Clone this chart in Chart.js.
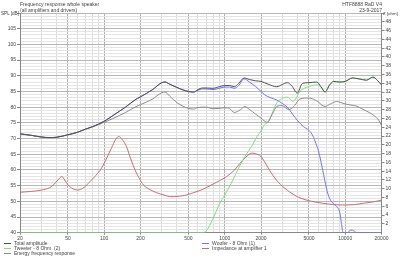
<!DOCTYPE html>
<html>
<head>
<meta charset="utf-8">
<script src="https://cdn.jsdelivr.net/npm/chart.js@4/dist/chart.umd.min.js"></script>
<style>
  html, body { margin:0; padding:0; background:#fff; }
  #wrap { position:relative; width:400px; height:256px; overflow:hidden; font-family:"Liberation Sans", Arial, sans-serif; color:#444; }
  canvas { position:absolute; left:0; top:0; }
  .t { position:absolute; font-size:5px; line-height:5px; white-space:nowrap; }
  .lg { position:absolute; font-size:5px; line-height:5px; white-space:nowrap; }
  .lg i { display:inline-block; width:7px; height:0; border-top:1px solid; vertical-align:middle; margin-right:3px; position:relative; top:-0.5px; }
</style>
</head>
<body>
<div id="wrap">
  <canvas id="c" width="400" height="256"></canvas>
  <div class="t" style="left:20px;top:2px;">Frequency response whole speaker</div>
  <div class="t" style="left:20px;top:7.5px;">(all amplifiers and drivers)</div>
  <div class="t" style="right:18px;top:2px;text-align:right;">HTF8888 RaD V4</div>
  <div class="t" style="right:18px;top:7.5px;text-align:right;">23-9-2017</div>
  <div class="t" style="left:1px;top:11px;font-size:4.6px;">SPL [dB]</div>
  <div class="t" style="left:383px;top:11px;font-size:4.4px;">Z [ohm]</div>
  <div class="lg" style="left:4px;top:241px;"><i style="border-color:#505050"></i>Total amplitude</div>
  <div class="lg" style="left:4px;top:246px;"><i style="border-color:#7ee07e"></i>Tweeter - 8 Ohm &nbsp;(2)</div>
  <div class="lg" style="left:4px;top:251px;"><i style="border-color:#8c8c8c"></i>Energy frequency response</div>
  <div class="lg" style="left:202px;top:241px;"><i style="border-color:#7070ff"></i>Woofer - 8 Ohm (1)</div>
  <div class="lg" style="left:202px;top:246px;"><i style="border-color:#c07078"></i>Impedance at amplifier 1</div>
</div>
<script>
// ---- data ----
const totalFreq = [20,25,30,35,40,50,60,70,80,100,120,150,180,200,250,300,320,350,400,450,500,550,600,650,700,800,900,1000,1100,1200,1300,1450,1600,1800,2000,2300,2700,3000,3300,3600,4000,4400,5000,5800,6300,6800,7400,8000,9000,10000,11500,13000,15000,17000,18500,20000];
const totalDb   = [71.5,71.0,70.5,70.3,70.4,71.2,72.0,73.0,73.8,75.5,77.5,80.0,82.3,83.3,85.5,87.8,88.0,87.3,86.3,85.5,85.0,84.8,85.6,86.1,86.1,86.0,86.5,86.9,86.9,86.5,87.5,89.3,88.8,88.4,88.2,87.3,86.5,87.2,87.8,86.8,84.5,87.5,87.8,88.0,86.5,84.8,87.0,88.2,88.0,88.2,89.3,89.0,88.6,89.6,88.5,87.1];

const energyFreq = [20,25,30,35,40,50,60,70,80,100,120,150,180,200,250,300,320,350,400,450,500,550,600,700,800,900,1000,1100,1200,1350,1470,1600,1800,2000,2250,2500,2700,3000,3400,3800,4200,5000,5800,6800,7500,8500,10000,11000,12500,14000,16000,17500,19000,20000];
const energyDb   = [71.5,71.0,70.5,70.3,70.4,71.2,72.0,73.0,73.7,75.2,76.5,78.3,80.0,80.8,82.5,84.6,84.8,83.5,81.5,80.3,79.6,79.4,79.9,80.0,79.5,79.6,79.8,79.5,78.3,79.2,80.2,79.3,77.8,76.5,75.2,78.0,80.2,80.5,79.2,80.5,82.6,82.9,82.0,80.2,81.0,81.8,81.0,80.7,80.3,79.3,78.2,77.2,75.8,74.2];

const wooferFreq = [20,25,30,35,40,50,60,70,80,100,120,150,180,200,250,300,320,350,400,450,500,550,600,650,700,800,900,1000,1100,1200,1300,1450,1600,1800,2000,2150,2400,2700,3000,3300,3700,4000,4500,5000,5400,5700,6000,6500,7000,7400,8000,8500,9000,9300,9600,10500,11000,11500,12500,20000];
const wooferDb   = [71.5,71.0,70.5,70.3,70.4,71.2,72.0,73.0,73.8,75.5,77.5,80.0,82.3,83.3,85.5,87.8,88.0,87.3,86.3,85.5,85.0,84.8,85.4,85.8,85.8,85.6,86.0,86.4,86.4,86.0,86.8,89.0,88.0,86.6,85.0,83.9,83.0,82.3,81.2,80.0,77.5,75.8,73.8,72.6,70.8,68.5,66.0,60.0,54.0,51.0,49.2,48.3,46.5,43.0,40.0,40.0,40.8,40.8,40.0,40.0];

const tweeterFreq = [20,100,500,650,700,800,900,1000,1170,1300,1470,1670,1850,2000,2150,2300,2500,2700,3000,3300,3700,4200,5000,5900,6400,6800,7400,8000,9000,10000,11500,13000,15000,17000,18500,20000];
const tweeterDb   = [40,40,40,40,40.5,44.5,49.0,52.0,56.8,60.5,64.3,67.5,70.6,72.5,74.5,75.3,78.5,81.3,82.8,83.2,81.8,85.0,86.6,87.1,86.0,84.8,87.0,88.2,88.0,88.2,89.3,89.0,88.6,89.6,88.5,87.1];

const impFreq = [20,25,30,35,38,42,44.5,47,50,55,60,68,76,85,95,105,115,125,132,140,153,165,180,195,211,240,272,320,350,420,483,550,650,755,900,1040,1200,1340,1500,1670,1800,2000,2200,2500,2900,3450,4000,4800,5600,6500,8000,9500,12000,14100,17000,20000];
const impOhm  = [9.2,9.4,9.7,10.2,10.9,12.2,12.8,12.0,10.9,10.0,9.7,10.3,11.6,13.0,14.7,17.0,19.3,21.3,21.9,21.3,19.6,17.0,14.3,12.4,10.9,9.8,9.1,8.5,8.2,8.3,8.6,9.1,9.8,10.7,11.8,12.8,14.2,15.8,17.2,18.1,18.0,17.3,15.6,13.1,11.0,9.3,8.2,7.4,7.0,6.7,6.4,6.3,6.4,6.7,7.0,7.4];

const xTickValues = [20,30,40,50,60,70,80,90,100,200,300,400,500,600,700,800,900,1000,2000,3000,4000,5000,6000,7000,8000,9000,10000,20000];
const xLabelValues = [20,50,100,200,500,1000,2000,5000,10000,20000];
const splTicks = [40,45,50,55,60,65,70,75,80,85,90,95,100,105];
const ohmTicks = [2,4,6,8,10,12,14,16,18,20,22,24,26,28,30,32,34,36,38,40,42,44,46,48,50];

// ---- build ----
const pts = (f, v) => f.map((x, i) => ({ x, y: v[i] }));
const FONT = { family: '"Liberation Sans", Arial, sans-serif', size: 5 };
const TXT = '#444';

const ds = (label, f, v, color, axis) => ({
  label, data: pts(f, v), borderColor: color, backgroundColor: color,
  borderWidth: 1, pointRadius: 0, fill: false, cubicInterpolationMode: 'monotone', yAxisID: axis
});

new Chart(document.getElementById('c'), {
  type: 'line',
  data: {
    datasets: [
      ds('Total amplitude', totalFreq, totalDb, '#505050', 'y'),
      ds('Energy frequency response', energyFreq, energyDb, '#8c8c8c', 'y'),
      ds('Woofer - 8 Ohm (1)', wooferFreq, wooferDb, '#7070ff', 'y'),
      ds('Tweeter - 8 Ohm  (2)', tweeterFreq, tweeterDb, '#7ee07e', 'y'),
      ds('Impedance at amplifier 1', impFreq, impOhm, '#c07078', 'y2')
    ]
  },
  options: {
    responsive: false, animation: false, devicePixelRatio: 1,
    layout: { padding: { top: 13, left: 0, right: 0, bottom: 0 } },
    plugins: { legend: { display: false }, tooltip: { enabled: false } },
    scales: {
      x: {
        type: 'logarithmic', min: 20, max: 20000,
        afterBuildTicks: s => { s.ticks = xTickValues.map(v => ({ value: v })); },
        afterFit: s => { s.height = 23.3; },
        ticks: {
          autoSkip: false, maxRotation: 0, minRotation: 0, padding: 1, color: TXT, font: FONT,
          callback: v => xLabelValues.includes(v) ? String(v) : ''
        },
        grid: {
          tickLength: 2,
          color: c => (c.tick && xLabelValues.includes(c.tick.value)) ? '#b0b0b0' : '#dedede',
          tickColor: c => (c.tick && xLabelValues.includes(c.tick.value)) ? '#888' : 'rgba(0,0,0,0)'
        },
        border: { color: '#888' }
      },
      y: {
        position: 'left', min: 40, max: 110,
        afterBuildTicks: s => { const t = []; for (let v = 40; v <= 110; v++) t.push({ value: v }); s.ticks = t; },
        afterFit: s => { s.width = 20; },
        ticks: {
          autoSkip: false, padding: 1, color: TXT, font: FONT,
          callback: v => splTicks.includes(v) ? String(v) : ''
        },
        grid: {
          tickLength: 3,
          color: c => (c.tick && c.tick.value % 5 === 0) ? '#b8b8b8' : '#e4e4e4',
          tickColor: c => (c.tick && c.tick.value % 5 === 0) ? '#888' : 'rgba(0,0,0,0)'
        },
        border: { color: '#888' }
      },
      y2: {
        position: 'right', min: 0, max: 50,
        afterBuildTicks: s => { s.ticks = ohmTicks.map(v => ({ value: v })); },
        afterFit: s => { s.width = 18.5; },
        ticks: {
          autoSkip: false, padding: 1, color: TXT, font: FONT,
          callback: v => v === 50 ? '' : String(v)
        },
        grid: { drawOnChartArea: false, tickLength: 3, tickColor: '#888' },
        border: { color: '#888' }
      }
    }
  }
});
</script>
</body>
</html>
